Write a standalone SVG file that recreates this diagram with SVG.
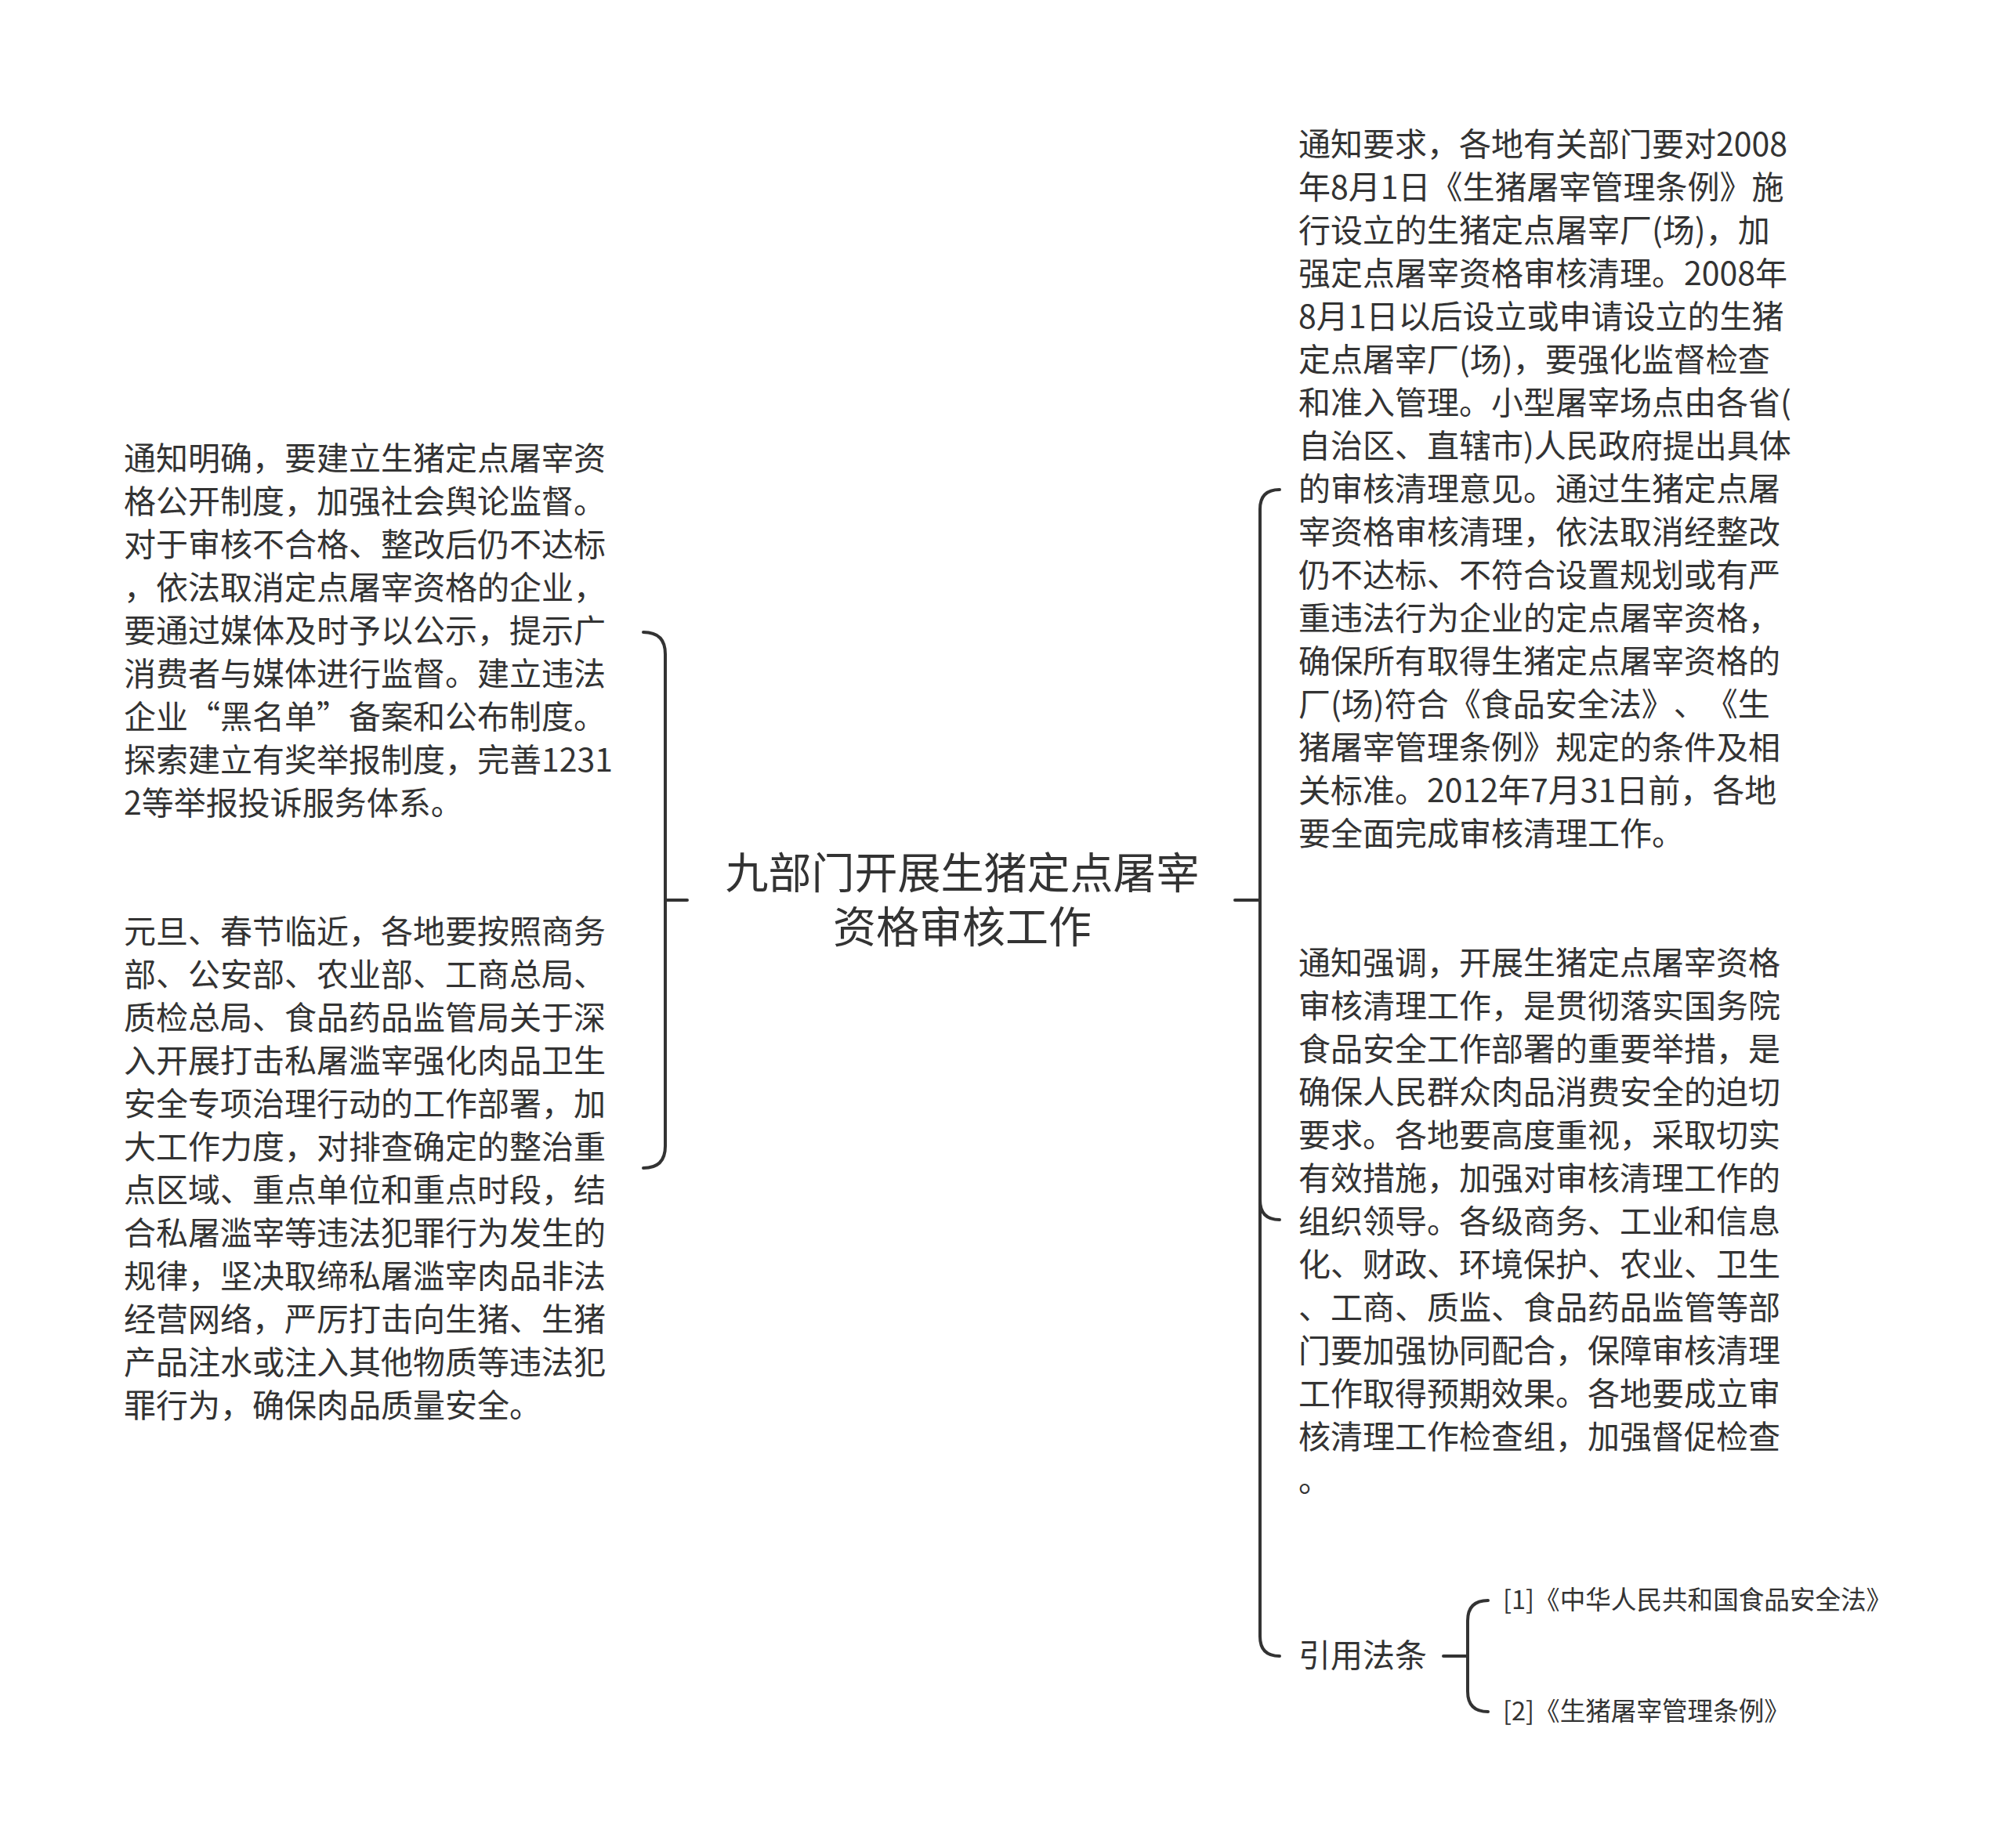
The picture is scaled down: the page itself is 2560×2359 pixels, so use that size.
<svg xmlns="http://www.w3.org/2000/svg" width="2560" height="2359" viewBox="0 0 2560 2359">
<style>
.t{font-family:"Noto Sans CJK SC","Noto Sans",sans-serif;fill:#333333;font-size:41px;text-spacing-trim:space-all}
.c{font-size:55px}
.s{font-size:32.6px}
.ln{fill:none;stroke:#333333;stroke-width:4;stroke-linecap:round}
</style>
<rect width="2560" height="2359" fill="#ffffff"/>
<g id="connectors">
<path class="ln" d="M 849 1149 L 877 1149"/>
<path class="ln" d="M 821 807 Q 849 807 849 835 L 849 1463 Q 849 1491 821 1491"/>
<path class="ln" d="M 1576 1149 L 1608 1149"/>
<path class="ln" d="M 1633 625 Q 1608 625 1608 650 L 1608 2089 Q 1608 2114 1633 2114"/>
<path class="ln" d="M 1608 1532 Q 1608 1557 1633 1557"/>
<path class="ln" d="M 1842 2114 L 1873 2114"/>
<path class="ln" d="M 1899 2043 Q 1873 2043 1873 2069 L 1873 2159 Q 1873 2185 1899 2185"/>
</g>
<g id="root">
<text class="t c" text-anchor="middle" x="1228" y="1134">九部门开展生猪定点屠宰</text>
<text class="t c" text-anchor="middle" x="1228" y="1203">资格审核工作</text>
</g>
<g id="left1">
<text class="t"><tspan x="158" y="600">通知明确，要建立生猪定点屠宰资</tspan><tspan x="158" y="655">格公开制度，加强社会舆论监督。</tspan><tspan x="158" y="710">对于审核不合格、整改后仍不达标</tspan><tspan x="158" y="765">，依法取消定点屠宰资格的企业，</tspan><tspan x="158" y="820">要通过媒体及时予以公示，提示广</tspan><tspan x="158" y="875">消费者与媒体进行监督。建立违法</tspan><tspan x="158" y="930">企业“黑名单”备案和公布制度。</tspan><tspan x="158" y="985">探索建立有奖举报制度，完善1231</tspan><tspan x="158" y="1040">2等举报投诉服务体系。</tspan></text>
</g>
<g id="left2">
<text class="t"><tspan x="158" y="1204">元旦、春节临近，各地要按照商务</tspan><tspan x="158" y="1259">部、公安部、农业部、工商总局、</tspan><tspan x="158" y="1314">质检总局、食品药品监管局关于深</tspan><tspan x="158" y="1369">入开展打击私屠滥宰强化肉品卫生</tspan><tspan x="158" y="1424">安全专项治理行动的工作部署，加</tspan><tspan x="158" y="1479">大工作力度，对排查确定的整治重</tspan><tspan x="158" y="1534">点区域、重点单位和重点时段，结</tspan><tspan x="158" y="1589">合私屠滥宰等违法犯罪行为发生的</tspan><tspan x="158" y="1644">规律，坚决取缔私屠滥宰肉品非法</tspan><tspan x="158" y="1699">经营网络，严厉打击向生猪、生猪</tspan><tspan x="158" y="1754">产品注水或注入其他物质等违法犯</tspan><tspan x="158" y="1809">罪行为，确保肉品质量安全。</tspan></text>
</g>
<g id="right1">
<text class="t"><tspan x="1657" y="199">通知要求，各地有关部门要对2008</tspan><tspan x="1657" y="254">年8月1日《生猪屠宰管理条例》施</tspan><tspan x="1657" y="309">行设立的生猪定点屠宰厂(场)，加</tspan><tspan x="1657" y="364">强定点屠宰资格审核清理。2008年</tspan><tspan x="1657" y="419">8月1日以后设立或申请设立的生猪</tspan><tspan x="1657" y="474">定点屠宰厂(场)，要强化监督检查</tspan><tspan x="1657" y="529">和准入管理。小型屠宰场点由各省(</tspan><tspan x="1657" y="584">自治区、直辖市)人民政府提出具体</tspan><tspan x="1657" y="639">的审核清理意见。通过生猪定点屠</tspan><tspan x="1657" y="694">宰资格审核清理，依法取消经整改</tspan><tspan x="1657" y="749">仍不达标、不符合设置规划或有严</tspan><tspan x="1657" y="804">重违法行为企业的定点屠宰资格，</tspan><tspan x="1657" y="859">确保所有取得生猪定点屠宰资格的</tspan><tspan x="1657" y="914">厂(场)符合《食品安全法》、《生</tspan><tspan x="1657" y="969">猪屠宰管理条例》规定的条件及相</tspan><tspan x="1657" y="1024">关标准。2012年7月31日前，各地</tspan><tspan x="1657" y="1079">要全面完成审核清理工作。</tspan></text>
</g>
<g id="right2">
<text class="t"><tspan x="1657" y="1244">通知强调，开展生猪定点屠宰资格</tspan><tspan x="1657" y="1299">审核清理工作，是贯彻落实国务院</tspan><tspan x="1657" y="1354">食品安全工作部署的重要举措，是</tspan><tspan x="1657" y="1409">确保人民群众肉品消费安全的迫切</tspan><tspan x="1657" y="1464">要求。各地要高度重视，采取切实</tspan><tspan x="1657" y="1519">有效措施，加强对审核清理工作的</tspan><tspan x="1657" y="1574">组织领导。各级商务、工业和信息</tspan><tspan x="1657" y="1629">化、财政、环境保护、农业、卫生</tspan><tspan x="1657" y="1684">、工商、质监、食品药品监管等部</tspan><tspan x="1657" y="1739">门要加强协同配合，保障审核清理</tspan><tspan x="1657" y="1794">工作取得预期效果。各地要成立审</tspan><tspan x="1657" y="1849">核清理工作检查组，加强督促检查</tspan><tspan x="1657" y="1904">。</tspan></text>
</g>
<g id="law">
<text class="t" x="1657" y="2128">引用法条</text>
</g>
<g id="law1">
<text class="t s" x="1918" y="2054">[1]《中华人民共和国食品安全法》</text>
</g>
<g id="law2">
<text class="t s" x="1918" y="2196">[2]《生猪屠宰管理条例》</text>
</g>
</svg>
